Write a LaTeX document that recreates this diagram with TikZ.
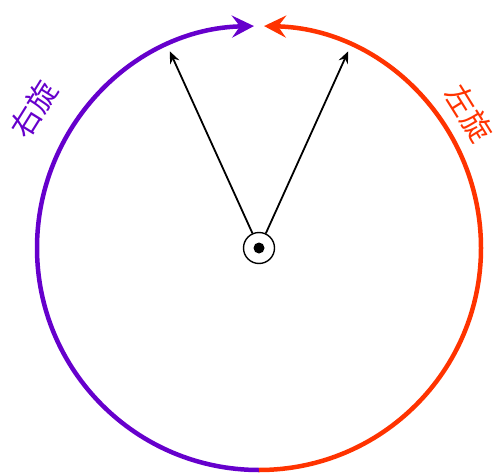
\documentclass[tikz,border=0pt]{standalone}
\usepackage{fontspec}
\newfontfamily\cjk{Noto Sans CJK SC}
\usetikzlibrary{arrows.meta,calc}
\definecolor{rpurple}{RGB}{102,0,204}
\definecolor{lred}{RGB}{255,51,0}
\begin{document}
\begin{tikzpicture}[x=1pt,y=1pt,
  bigarc/.style={line width=4.5pt,-{Stealth[length=22pt,width=22pt,inset=8pt]}},
  inarrow/.style={line width=1.8pt,-{Stealth[length=12pt,width=10pt,inset=4pt]}},
  lbl/.style={font=\cjk\fontsize{30}{30}\selectfont}]
\useasboundingbox (0,0) rectangle (500,475);
\coordinate (O) at (259,227);
\node[circle,draw,line width=1.4pt,minimum size=31pt,inner sep=0pt] (c) at (O) {};
\fill (O) circle (5.5pt);
\draw[bigarc,rpurple] ($(O)+(270:222)$) arc[start angle=270,end angle=91.3,radius=222];
\draw[bigarc,lred] ($(O)+(-90:222)$) arc[start angle=-90,end angle=88.7,radius=222];
\coordinate (a1) at ($(O)+(114.4:216)$);
\coordinate (a2) at ($(O)+(65.6:216)$);
\draw[inarrow] (c.114.4) -- (a1);
\draw[inarrow] (c.65.6) -- (a2);
\node[lbl,text=rpurple,rotate=58] (r) at (34,366) {右旋};
\node[lbl,text=lred,rotate=-58] (l) at (469,362) {左旋};
\end{tikzpicture}
\end{document}
